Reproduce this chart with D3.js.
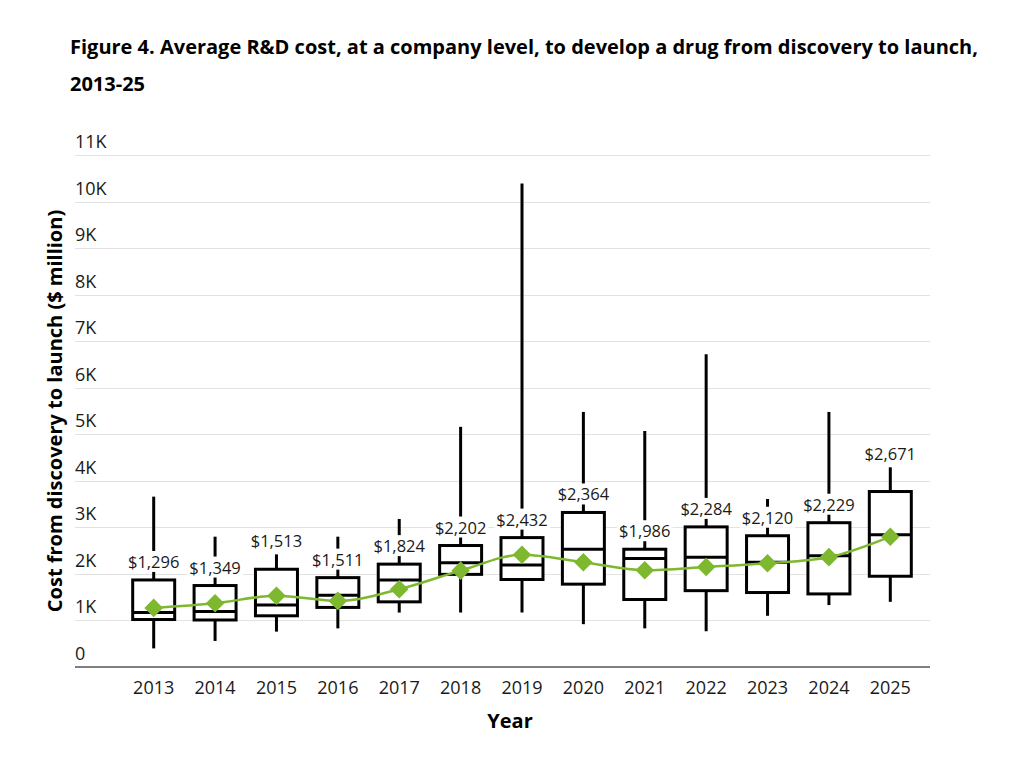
<!DOCTYPE html>
<html lang="en">
<head>
    <meta charset="UTF-8">
    <title>Average R&amp;D cost to develop a drug, 2013-25</title>
    <style>
        body {
            margin: 0;
            background: #fff;
            font-family: 'Open Sans', sans-serif;
        }
        .title {
            font-size: 20px;
            font-weight: 700;
            fill: #000;
        }
        .tick-label {
            font-size: 18px;
            fill: #1a1a1a;
        }
        .axis-title {
            font-size: 20px;
            font-weight: 700;
            fill: #000;
        }
        .grid {
            stroke: #e2e2e2;
            stroke-width: 1;
        }
        .box {
            fill: #fff;
            stroke: #000;
            stroke-width: 3;
        }
        .whisker, .median {
            stroke: #000;
            stroke-width: 3;
        }
        .avg-label {
            font-size: 16.5px;
            fill: #1a1a1a;
            text-anchor: middle;
        }
    </style>
</head>
<body>
<svg id="chart" width="1026" height="766"></svg>

<script src="https://d3js.org/d3.v7.min.js"></script>
<script>
    // data ($ million)
    const years = ['2013', '2014', '2015', '2016', '2017', '2018', '2019',
                   '2020', '2021', '2022', '2023', '2024', '2025'];
    const whiskerLow  = [400, 560, 760, 830, 1170, 1170, 1170, 920, 830, 770, 1100, 1330, 1400];
    const q1          = [1020, 1010, 1100, 1280, 1400, 1990, 1880, 1780, 1450, 1640, 1600, 1570, 1950];
    const median      = [1170, 1190, 1330, 1540, 1870, 2240, 2190, 2530, 2330, 2360, 2250, 2390, 2840];
    const q3          = [1870, 1750, 2100, 1920, 2210, 2610, 2780, 3320, 2530, 3010, 2820, 3100, 3770];
    const whiskerHigh = [3660, 2800, 2420, 2800, 3180, 5160, 10390, 5480, 5070, 6720, 3610, 5480, 4290];
    const averageCost = [1296, 1349, 1513, 1511, 1824, 2202, 2432, 2364, 1986, 2284, 2120, 2229, 2671];
    const trendValues = [1270, 1370, 1530, 1420, 1670, 2070, 2410, 2250, 2080, 2150, 2230, 2360, 2800];
    const yTicks = [0, 1000, 2000, 3000, 4000, 5000, 6000, 7000, 8000, 9000, 10000, 11000];

    const titleLines = [
        'Figure 4. Average R&D cost, at a company level, to develop a drug from discovery to launch,',
        '2013-25'
    ];

    const plot = { left: 75, right: 930, top: 155, bottom: 667 };
    const green = '#7db82f';

    const svg = d3.select('#chart');

    const x = d3.scaleBand()
        .domain(years)
        .range([123, 921])
        .paddingInner(0.316)
        .paddingOuter(0.158);

    const y = d3.scaleLinear()
        .domain([0, 11000])
        .range([plot.bottom, plot.top]);

    const cx = year => x(year) + x.bandwidth() / 2;

    // title
    svg.selectAll('.title')
        .data(titleLines)
        .enter()
        .append('text')
        .attr('class', 'title')
        .attr('x', 70)
        .attr('y', (d, i) => 54 + i * 37)
        .text(d => d);

    // gridlines + y tick labels
    svg.append('g')
        .selectAll('line')
        .data(yTicks.filter(d => d > 0))
        .enter()
        .append('line')
        .attr('class', 'grid')
        .attr('x1', plot.left)
        .attr('x2', plot.right)
        .attr('y1', d => Math.round(y(d)) + 0.5)
        .attr('y2', d => Math.round(y(d)) + 0.5);

    svg.append('g')
        .selectAll('text')
        .data(yTicks)
        .enter()
        .append('text')
        .attr('class', 'tick-label')
        .attr('x', plot.left)
        .attr('y', d => y(d) - 7)
        .text(d => d === 0 ? '0' : (d / 1000) + 'K');

    // x axis line
    svg.append('line')
        .attr('x1', plot.left)
        .attr('x2', plot.right)
        .attr('y1', plot.bottom)
        .attr('y2', plot.bottom)
        .attr('stroke', '#555')
        .attr('stroke-width', 1.5);

    const xAxis = d3.axisBottom(x).tickSize(0).tickPadding(0);
    const xg = svg.append('g')
        .attr('transform', `translate(0, ${plot.bottom})`)
        .call(xAxis);
    xg.select('.domain').remove();
    xg.selectAll('text')
        .attr('class', 'tick-label')
        .attr('dy', null)
        .attr('y', 27)
        .style('font-family', "'Open Sans', sans-serif");

    // axis titles
    svg.append('text')
        .attr('class', 'axis-title')
        .attr('text-anchor', 'middle')
        .attr('x', 510)
        .attr('y', 728)
        .text('Year');

    svg.append('text')
        .attr('class', 'axis-title')
        .attr('text-anchor', 'middle')
        .attr('transform', 'translate(62, 411) rotate(-90)')
        .text('Cost from discovery to launch ($ million)');

    // boxes
    const boxes = svg.append('g')
        .selectAll('g')
        .data(years)
        .enter()
        .append('g');

    boxes.append('line')
        .attr('class', 'whisker')
        .attr('x1', d => cx(d))
        .attr('x2', d => cx(d))
        .attr('y1', (d, i) => y(whiskerHigh[i]))
        .attr('y2', (d, i) => y(whiskerLow[i]));

    // average labels, with a white backing that cuts the whisker
    const labelY = i => {
        const gap = y(q3[i]) - y(whiskerHigh[i]);
        return gap < 28 ? y(whiskerHigh[i]) - 7 : y(q3[i]) - 12;
    };

    const labels = boxes.append('text')
        .attr('class', 'avg-label')
        .attr('x', d => cx(d))
        .attr('y', (d, i) => labelY(i))
        .text((d, i) => '$' + d3.format(',')(averageCost[i]));

    labels.each(function () {
        const bb = this.getBBox();
        d3.select(this.parentNode)
            .insert('rect', 'text')
            .attr('x', bb.x - 2)
            .attr('y', bb.y + 1)
            .attr('width', bb.width + 4)
            .attr('height', bb.height - 2)
            .attr('fill', '#fff');
    });

    boxes.append('rect')
        .attr('class', 'box')
        .attr('x', d => x(d))
        .attr('width', x.bandwidth())
        .attr('y', (d, i) => y(q3[i]))
        .attr('height', (d, i) => y(q1[i]) - y(q3[i]));

    boxes.append('line')
        .attr('class', 'median')
        .attr('x1', d => x(d))
        .attr('x2', d => x(d) + x.bandwidth())
        .attr('y1', (d, i) => y(median[i]))
        .attr('y2', (d, i) => y(median[i]));

    // green trend line with diamonds
    const line = d3.line()
        .x((d, i) => cx(years[i]))
        .y(d => y(d))
        .curve(d3.curveMonotoneX);

    svg.append('path')
        .datum(trendValues)
        .attr('d', line)
        .attr('fill', 'none')
        .attr('stroke', green)
        .attr('stroke-width', 2.5);

    svg.append('g')
        .selectAll('path')
        .data(trendValues)
        .enter()
        .append('path')
        .attr('d', d3.symbol().type(d3.symbolDiamond2).size(220))
        .attr('transform', (d, i) => `translate(${cx(years[i])}, ${y(d)})`)
        .attr('fill', green);
</script>
</body>
</html>
